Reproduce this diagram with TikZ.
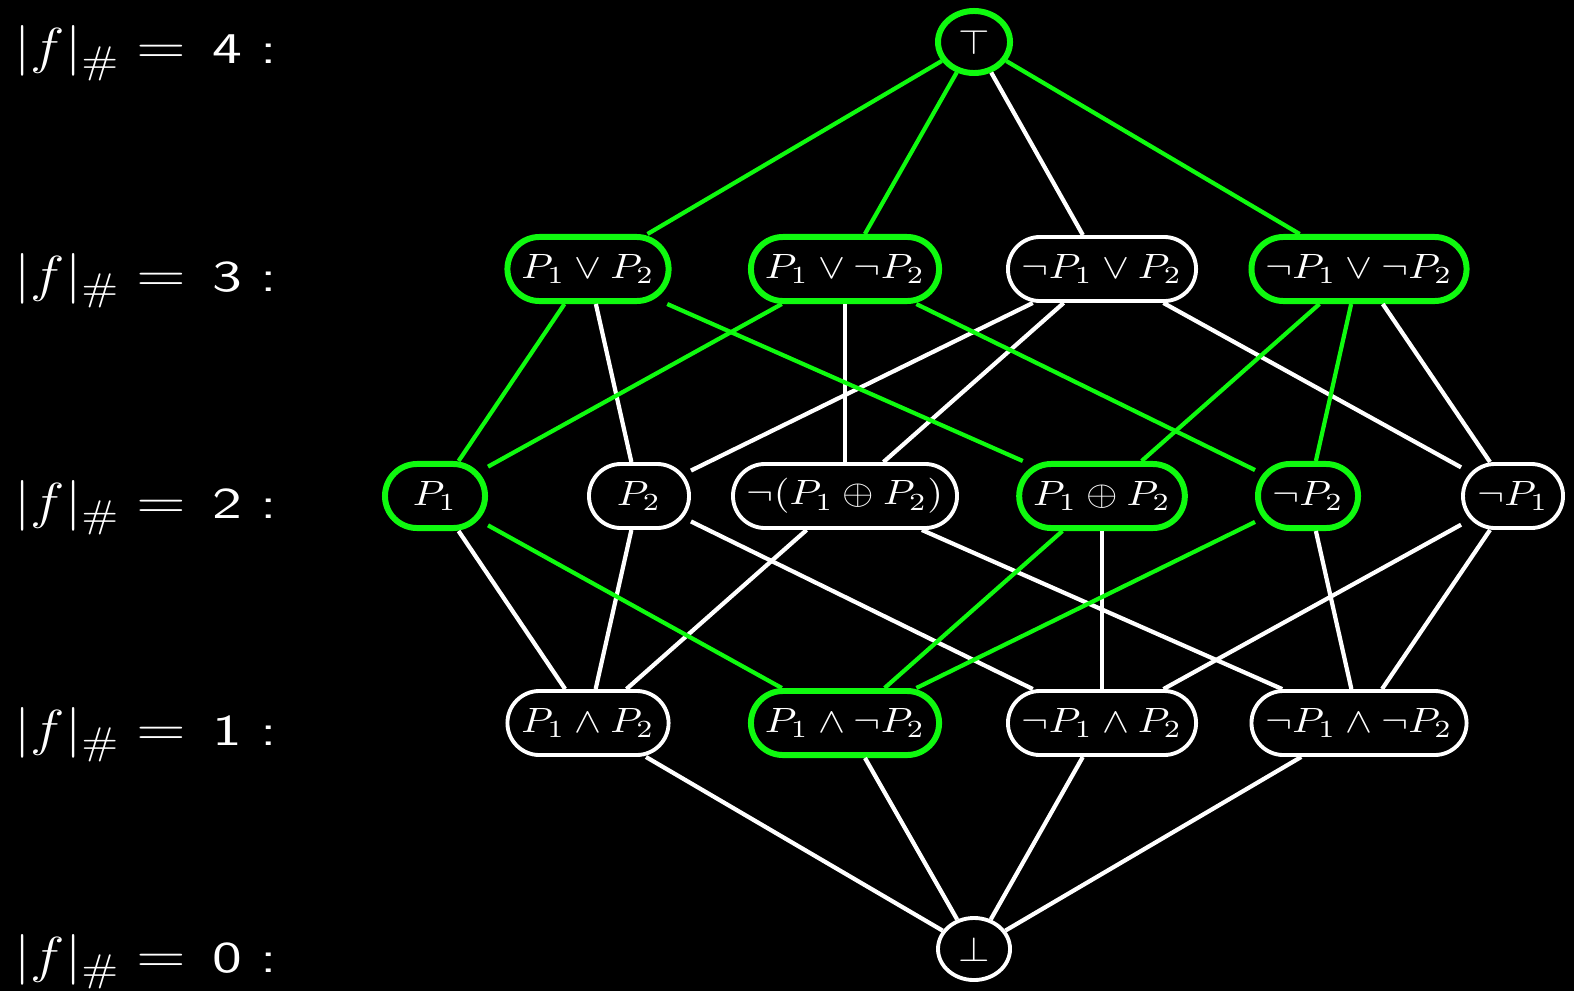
\documentclass[tikz,border=0pt]{standalone}
\usepackage{amsmath}
\usepackage{amssymb}
\usepackage{graphicx}
\usetikzlibrary{shapes.geometric}

\definecolor{satgreen}{RGB}{15,250,15}

% slightly widened text
\newcommand{\wide}[1]{\scalebox{1.15}[1]{#1}}
\newcommand{\rank}[1]{\wide{\fontsize{15.5}{17}\selectfont$|f|_{\#}\mathrel{\scalebox{1.12}[1]{$=$}}{}$\scalebox{1.2}[1]{\fontsize{12.5}{14}\selectfont\sffamily\,#1\hspace{0.3em}:}}}

\tikzset{
  form/.style={draw=white, line width=1.1pt, fill=black, text=white, rectangle,
    rounded corners=0.32cm, minimum height=0.64cm, minimum width=1cm,
    inner xsep=0.14cm, inner ysep=0pt},
  pole/.style={form, ellipse, sharp corners, minimum width=0.72cm,
    minimum height=0.62cm, inner sep=0pt},
  hit/.style={draw=satgreen, line width=1.7pt},
  link/.style={white, line width=1.2pt},
  satlink/.style={satgreen, line width=1.2pt},
  rowlab/.style={text=white, anchor=base west, inner sep=0pt}
}

\begin{document}
\begin{tikzpicture}[x=0.01cm, y=-0.01cm]
\fill[black] (0,0) rectangle (1574,991);
\useasboundingbox (0,0) rectangle (1574,991);

% levels
\node[rowlab] (l4) at (14,64) {\rank{4}};
\node[rowlab] (l3) at (14,291) {\rank{3}};
\node[rowlab] (l2) at (14,518) {\rank{2}};
\node[rowlab] (l1) at (14,745) {\rank{1}};
\node[rowlab] (l0) at (14,972) {\rank{0}};

% lattice
\node[pole, hit] (top) at (974,42) {\wide{$\top$}};

\node[form, hit] (a3) at (588,269) {\wide{$P_1 \lor P_2$}};
\node[form, hit] (b3) at (845,269) {\wide{$P_1 \lor \lnot P_2$}};
\node[form] (c3) at (1102,269) {\wide{$\lnot P_1 \lor P_2$}};
\node[form, hit] (d3) at (1359,269) {\wide{$\lnot P_1 \lor \lnot P_2$}};

\node[form, hit] (p1) at (435,496) {\wide{$P_1$}};
\node[form] (p2) at (639,496) {\wide{$P_2$}};
\node[form] (eq) at (845,496) {\wide{$\lnot(P_1 \oplus P_2)$}};
\node[form, hit] (xor) at (1102,496) {\wide{$P_1 \oplus P_2$}};
\node[form, hit] (np2) at (1308,496) {\wide{$\lnot P_2$}};
\node[form] (np1) at (1513,496) {\wide{$\lnot P_1$}};

\node[form] (a1) at (588,723) {\wide{$P_1 \land P_2$}};
\node[form, hit] (b1) at (845,723) {\wide{$P_1 \land \lnot P_2$}};
\node[form] (c1) at (1102,723) {\wide{$\lnot P_1 \land P_2$}};
\node[form] (d1) at (1359,723) {\wide{$\lnot P_1 \land \lnot P_2$}};

\node[pole] (bot) at (974,949) {\wide{$\bot$}};

\foreach \u/\v in {top/c3, a3/p2, b3/eq, c3/p2, c3/eq, c3/np1, d3/np1,
    p1/a1, p2/a1, p2/c1, eq/a1, eq/d1, xor/c1, np2/d1, np1/c1, np1/d1,
    a1/bot, b1/bot, c1/bot, d1/bot}
  \draw[link] (\u) -- (\v);
\foreach \u/\v in {top/a3, top/b3, top/d3, a3/p1, a3/xor, b3/p1, b3/np2,
    d3/xor, d3/np2, p1/b1, xor/b1, np2/b1}
  \draw[satlink] (\u) -- (\v);
\end{tikzpicture}
\end{document}
